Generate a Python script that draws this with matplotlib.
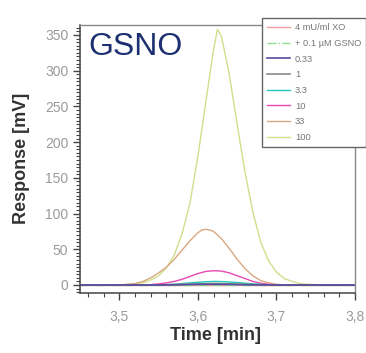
import matplotlib
matplotlib.use("Agg")
import matplotlib.pyplot as plt
from matplotlib.ticker import MultipleLocator, FuncFormatter

plt.rcParams['font.family'] = ['Liberation Sans', 'DejaVu Sans']

# ---- data ----
labels = ["4 mU/ml XO", "+ 0.1 \u00b5M GSNO", "0.33", "1", "3.3", "10", "33", "100"]
colors = ["#f0a0a0", "#90e090", "#5a4aa0", "#8a8a8a", "#20c8b8", "#e848b0", "#d8a882", "#cfe08a"]

t_base = [3.45, 3.80]
xo_vals = [0.0, 0.0]
gsno_vals = [0.2, 0.2]

t_033 = [3.45, 3.55, 3.58, 3.60, 3.62, 3.64, 3.66, 3.69, 3.80]
v_033 = [0.0, 0.0, 0.4, 0.8, 1.0, 0.8, 0.4, 0.0, 0.0]

t_1 = [3.45, 3.54, 3.57, 3.60, 3.62, 3.64, 3.67, 3.70, 3.80]
v_1 = [0.0, 0.0, 0.6, 1.6, 2.0, 1.6, 0.6, 0.0, 0.0]

t_33x = [3.45, 3.55, 3.57, 3.59, 3.61, 3.62, 3.63, 3.65, 3.67, 3.69, 3.70, 3.80]
v_33x = [0.0, 0.0, 1.0, 3.0, 4.5, 5.0, 4.8, 3.5, 1.5, 0.3, 0.0, 0.0]

t_10 = [3.45, 3.52, 3.54, 3.55, 3.56, 3.57, 3.58, 3.59, 3.60, 3.61, 3.62, 3.63,
        3.64, 3.65, 3.66, 3.67, 3.68, 3.69, 3.70, 3.80]
v_10 = [0.0, 0.0, 0.5, 1.5, 3.0, 5.0, 8.0, 12.0, 16.0, 19.0, 20.0, 19.5,
        17.0, 13.0, 9.0, 5.0, 2.5, 1.0, 0.0, 0.0]

t_33 = [3.45, 3.50, 3.52, 3.53, 3.54, 3.55, 3.56, 3.57, 3.58, 3.59, 3.60, 3.605, 3.61,
        3.615, 3.62, 3.63, 3.64, 3.65, 3.66, 3.67, 3.68, 3.69, 3.70, 3.71, 3.80]
v_33 = [0.0, 0.0, 2.0, 5.0, 10.0, 17.0, 25.0, 36.0, 49.0, 62.0, 73.0, 77.0, 78.0,
        77.0, 75.0, 65.0, 51.0, 36.0, 23.0, 13.0, 6.0, 3.0, 1.0, 0.0, 0.0]

t_100 = [3.45, 3.50, 3.51, 3.52, 3.53, 3.54, 3.55, 3.56, 3.57, 3.58, 3.59, 3.60, 3.61,
         3.62, 3.625, 3.63, 3.64, 3.65, 3.66, 3.67, 3.68, 3.69, 3.70, 3.71, 3.72,
         3.73, 3.74, 3.75, 3.80]
v_100 = [0.0, 0.0, 0.5, 1.5, 3.0, 7.0, 13.0, 24.0, 42.0, 72.0, 115.0, 180.0, 255.0,
         330.0, 358.0, 348.0, 295.0, 225.0, 158.0, 102.0, 60.0, 34.0, 18.0, 9.0, 5.0,
         2.0, 1.0, 0.5, 0.0]

series = [(t_base, xo_vals), (t_base, gsno_vals), (t_033, v_033), (t_1, v_1),
          (t_33x, v_33x), (t_10, v_10), (t_33, v_33), (t_100, v_100)]
styles = ["-", "-.", "-", "-", "-", "-", "-", "-"]

W, H = 366, 353
fig = plt.figure(figsize=(W / 100, H / 100), dpi=100)
L, R, T, B = 80, 355, 25, 293
ax = fig.add_axes([L / W, 1 - B / H, (R - L) / W, (B - T) / H])

order = [7, 6, 0, 1, 5, 4, 3, 2]
handles = {}
for i in order:
    t, v = series[i]
    lw = 1.2 if i in (2, 3) else 1.0
    h, = ax.plot(t, v, color=colors[i], lw=lw, ls=styles[i], label=labels[i])
    handles[i] = h

ax.set_xlim(3.45, 3.80)
ax.set_ylim(-11.2, 364)
ax.xaxis.set_major_locator(MultipleLocator(0.1))
ax.xaxis.set_minor_locator(MultipleLocator(0.02))
ax.yaxis.set_major_locator(MultipleLocator(50))
ax.yaxis.set_minor_locator(MultipleLocator(5))
ax.xaxis.set_major_formatter(FuncFormatter(lambda x, p: f"{x:.1f}".replace(".", ",")))
ax.tick_params(which='major', direction='out', length=5, width=1, color='#444444',
               labelsize=10, labelcolor='#9a9a9a')
ax.tick_params(which='minor', direction='out', length=3, width=0.8, color='#444444')
ax.tick_params(axis='x', pad=7)
for s in ['left', 'bottom']:
    ax.spines[s].set_color('#444444')
    ax.spines[s].set_linewidth(1.1)
for s in ['top', 'right']:
    ax.spines[s].set_color('#888888')
    ax.spines[s].set_linewidth(1.0)

ax.set_xlabel("Time [min]", fontsize=13, fontweight='bold', color='#333333')
ax.set_ylabel("Response [mV]", fontsize=13, fontweight='bold', color='#333333')
ax.xaxis.set_label_coords((215 - L) / (R - L), (B - 335) / (B - T))
ax.yaxis.set_label_coords((22 - L) / (R - L), (B - 158) / (B - T))
ax.xaxis.label.set_va('center')
ax.yaxis.label.set_va('center')

ax.text((88 - L) / (R - L), (B - 55) / (B - T), "GSNO", transform=ax.transAxes,
        fontsize=23, color='#1c2f70', ha='left', va='baseline')

leg = fig.legend([handles[i] for i in range(8)], labels,
                 loc='upper left', bbox_to_anchor=(262 / W, 1 - 18 / H),
                 fontsize=6.7, handlelength=2.5, labelspacing=0.72, borderpad=0.55,
                 handletextpad=0.5, borderaxespad=0, fancybox=False, framealpha=1,
                 edgecolor='#666666', labelcolor='#777777')
leg.get_frame().set_linewidth(1.0)

fig.savefig("out.png", dpi=100)
